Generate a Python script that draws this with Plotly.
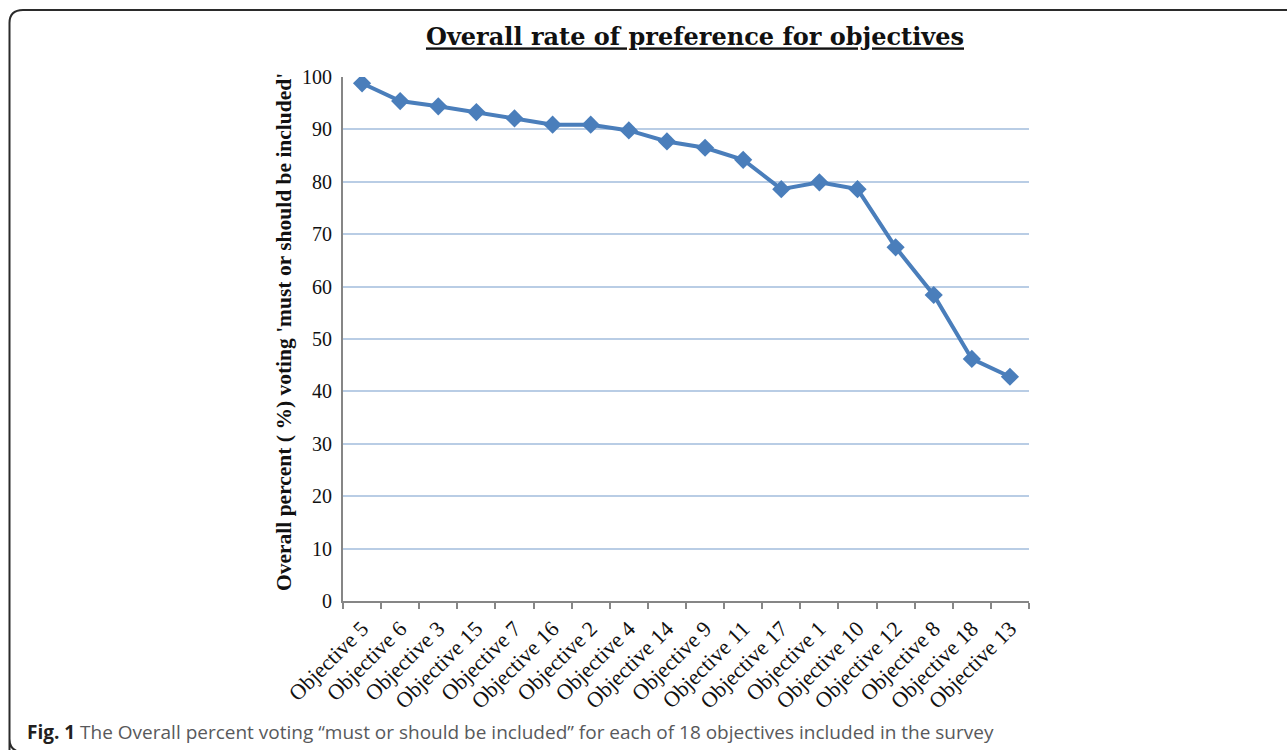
import plotly.graph_objects as go

# Objectives, ordered by overall preference
objectives = [
    "Objective 5", "Objective 6", "Objective 3", "Objective 15", "Objective 7",
    "Objective 16", "Objective 2", "Objective 4", "Objective 14", "Objective 9",
    "Objective 11", "Objective 17", "Objective 1", "Objective 10", "Objective 12",
    "Objective 8", "Objective 18", "Objective 13",
]
# Overall percent voting 'must or should be included'
percent_included = [
    98.8, 95.4, 94.4, 93.3, 92.1,
    90.9, 90.9, 89.8, 87.7, 86.5,
    84.2, 78.6, 79.9, 78.6, 67.5,
    58.4, 46.2, 42.8,
]
y_ticks = [0, 10, 20, 30, 40, 50, 60, 70, 80, 90, 100]

W, H = 1287, 750
L, R, T, B = 343, 258, 77, 149
plot_w = W - L - R
plot_h = H - T - B


def px_x(px):
    return (px - L) / plot_w


def px_y(py):
    return (H - B - py) / plot_h


line_color = "#4A7EBB"

fig = go.Figure()
fig.add_trace(go.Scatter(
    x=objectives,
    y=percent_included,
    mode="lines+markers",
    line=dict(color=line_color, width=4),
    marker=dict(symbol="diamond", size=14, color=line_color),
    showlegend=False,
))

# rounded frame around the whole figure (right and bottom edges run off the page)
frame = (
    f"M {px_x(9.5)},{px_y(770)} "
    f"L {px_x(9.5)},{px_y(739)} "
    f"Q {px_x(9.5)},{px_y(750)} {px_x(20)},{px_y(752)} "
    f"M {px_x(9.5)},{px_y(739)} "
    f"L {px_x(9.5)},{px_y(23)} "
    f"Q {px_x(9.5)},{px_y(10)} {px_x(23)},{px_y(10)} "
    f"L {px_x(1300)},{px_y(10)}"
)
fig.add_shape(type="path", xref="paper", yref="paper", path=frame,
              line=dict(color="#2b2b2b", width=2))

# y-axis title
fig.add_annotation(
    xref="paper", yref="paper",
    x=px_x(284), y=px_y(332),
    xanchor="center", yanchor="middle",
    showarrow=False, textangle=-90,
    text="<b>Overall percent ( %) voting 'must or should be included'</b>",
    font=dict(family="Liberation Serif", size=21.5, color="#111111"),
)

# figure caption
fig.add_annotation(
    xref="paper", yref="paper",
    x=px_x(25), y=px_y(732),
    xanchor="left", yanchor="middle",
    showarrow=False,
    text=("<b><span style='color:#231f20'>Fig. 1</span></b>"
          " The Overall percent voting \u201cmust or should be included\u201d"
          " for each of 18 objectives included in the survey"),
    font=dict(family="Open Sans", size=19, color="#58595b"),
)

fig.update_layout(
    width=W, height=H,
    margin=dict(l=L, r=R, t=T, b=B, autoexpand=False),
    paper_bgcolor="white",
    plot_bgcolor="white",
    title=dict(
        text="<b>Overall rate of preference for objectives</b>",
        x=695 / W, xref="container", xanchor="center",
        y=1 - 37 / H, yref="container", yanchor="middle",
        font=dict(family="DejaVu Serif", size=24, color="#111111",
                  lineposition="under"),
    ),
    xaxis=dict(
        type="category",
        range=[-0.5, len(objectives) - 0.5],
        showline=True, linecolor="#868686", linewidth=2,
        ticks="outside", tickson="boundaries", ticklen=6,
        tickcolor="#868686", tickwidth=1.5,
        tickangle=-45, ticklabelstandoff=4,
        tickfont=dict(family="Liberation Serif", size=22, color="#111111"),
        showgrid=False, zeroline=False,
    ),
    yaxis=dict(
        range=[0, 100],
        tickvals=y_ticks,
        showline=True, linecolor="#868686", linewidth=2,
        ticks="", ticklabelstandoff=5,
        tickfont=dict(family="Liberation Serif", size=20, color="#111111"),
        showgrid=True, gridcolor="#B9CDE5", gridwidth=1.5,
        zeroline=False,
    ),
)

fig.write_html("out.html")
